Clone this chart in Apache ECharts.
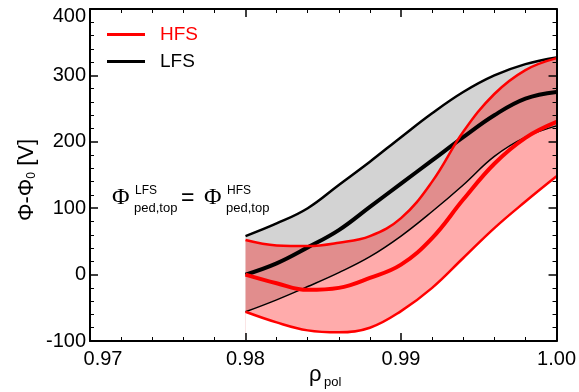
<!DOCTYPE html>
<html>
<head>
<meta charset="utf-8">
<script src="https://cdn.jsdelivr.net/npm/echarts@6/dist/echarts.min.js"></script>
<style>
  html, body { margin: 0; padding: 0; background: #fff; }
  #chart { width: 579px; height: 392px; }
</style>
</head>
<body>
<div id="chart"></div>
<script>
// rho_pol sample points
const rho = [0.980, 0.982, 0.984, 0.986, 0.988, 0.990, 0.992, 0.994, 0.996, 0.998, 1.000]

// LFS band (black)
const lfsUpper = [58, 77, 100, 135, 170, 207, 243, 275, 300, 317, 327]
const lfsMean  = [0, 17, 41, 67, 102, 137, 172, 207, 240, 265, 275]
const lfsLower = [-56, -38, -18, 3, 27, 58, 95, 135, 178, 207, 224]

// HFS band (red)
const hfsUpper = [52, 44, 43, 48, 58, 85, 140, 215, 272, 308, 326]
const hfsMean  = [0, -13, -23, -20, -5, 15, 55, 113, 167, 206, 230]
const hfsLower = [-56, -72, -84, -87, -80, -55, -20, 25, 70, 110, 148]

const xTicks = [0.97, 0.98, 0.99, 1.00]
const yTicks = [-100, 0, 100, 200, 300, 400]

const FONT = "'Liberation Sans', Arial, sans-serif"
const SERIF = "'Liberation Serif', 'Times New Roman', serif"
const SMOOTH = 0.4

const chart = echarts.init(document.getElementById('chart'))

const pts = arr => rho.map((r, i) => [r, arr[i]])

// filled area from a curve down to the bottom of the axis
function fillSeries(arr, color) {
  return {
    type: 'line', data: pts(arr), symbol: 'none', smooth: SMOOTH, silent: true,
    lineStyle: { width: 0 },
    areaStyle: { color, opacity: 1, origin: 'start' }
  }
}

function lineSeries(name, arr, color, width) {
  return {
    name, type: 'line', data: pts(arr), color,
    symbol: 'none', smooth: SMOOTH, silent: true,
    lineStyle: { color, width }
  }
}

const tickAxisCommon = {
  z: 10,
  axisLine: { show: true, onZero: false, lineStyle: { color: '#000', width: 2 } },
  axisTick: { show: true, inside: true, length: 8, lineStyle: { color: '#000', width: 1.5 } },
  minorTick: { show: true, splitNumber: 5, length: 4, lineStyle: { color: '#000', width: 1 } },
  splitLine: { show: false }
}

const xAxisBase = {
  type: 'value',
  min: xTicks[0],
  max: xTicks[xTicks.length - 1],
  interval: 0.01,
  ...tickAxisCommon
}

const yAxisBase = {
  type: 'value',
  min: yTicks[0],
  max: yTicks[yTicks.length - 1],
  interval: 100,
  ...tickAxisCommon
}

const option = {
  animation: false,
  backgroundColor: '#fff',
  grid: { left: 90, right: 22, top: 9, bottom: 51 },
  xAxis: [
    {
      ...xAxisBase,
      position: 'bottom',
      axisLabel: {
        color: '#000', fontSize: 20, fontFamily: FONT, margin: 8,
        formatter: v => {
          const s = v.toFixed(2)
          return Math.abs(v - xTicks[0]) < 1e-6 ? '{f|' + s + '}' : s
        },
        rich: { f: { color: '#000', fontSize: 20, fontFamily: FONT, padding: [0, 0, 0, 26] } }
      }
    },
    { ...xAxisBase, position: 'top', axisLabel: { show: false } }
  ],
  yAxis: [
    {
      ...yAxisBase,
      position: 'left',
      axisLabel: {
        color: '#000', fontSize: 20, fontFamily: FONT, margin: 4,
        formatter: v => (v === yTicks[yTicks.length - 1] ? '{t|' + v + '}' : String(v)),
        rich: { t: { color: '#000', fontSize: 20, fontFamily: FONT, padding: [14, 0, 0, 0] } }
      }
    },
    { ...yAxisBase, position: 'right', axisLabel: { show: false } }
  ],
  legend: {
    left: 102, top: 20, orient: 'vertical',
    icon: 'rect', itemWidth: 38, itemHeight: 3, itemGap: 8,
    selectedMode: false,
    textStyle: { fontSize: 19, fontFamily: FONT, padding: [0, 0, 0, 10] },
    data: [
      { name: 'HFS', textStyle: { color: '#ff0000' } },
      { name: 'LFS', textStyle: { color: '#000' } }
    ]
  },
  series: [
    // LFS band: gray under upper curve, blanked below lower curve
    fillSeries(lfsUpper, '#d3d3d3'),
    fillSeries(lfsLower, '#ffffff'),
    lineSeries('LFS', lfsUpper, '#000', 2.5),
    lineSeries('LFS', lfsMean, '#000', 4),
    lineSeries('LFS', lfsLower, '#000', 1.5),
    // HFS band: translucent red under upper curve, blanked below lower curve
    fillSeries(hfsUpper, 'rgba(255,0,0,0.33)'),
    fillSeries(hfsLower, '#ffffff'),
    lineSeries('HFS', hfsUpper, '#ff0000', 2.5),
    lineSeries('HFS', hfsMean, '#ff0000', 4),
    lineSeries('HFS', hfsLower, '#ff0000', 2.5)
  ],
  graphic: [
    // y axis title
    {
      type: 'text', x: 27, y: 180, rotation: Math.PI / 2,
      style: {
        text: '{a|Φ-Φ}{s|0}{a| [V]}',
        align: 'center', verticalAlign: 'middle',
        rich: {
          a: { fontSize: 22, fontFamily: FONT, fill: '#000' },
          s: { fontSize: 12, fontFamily: FONT, fill: '#000', verticalAlign: 'bottom', padding: [8, 0, 0, 0] }
        }
      }
    },
    // x axis title
    { type: 'text', x: 309, y: 375, style: { text: 'ρ', fontSize: 22, fontFamily: FONT, fill: '#000', verticalAlign: 'middle' } },
    { type: 'text', x: 324, y: 382, style: { text: 'pol', fontSize: 13, fontFamily: FONT, fill: '#000', verticalAlign: 'middle' } },
    // annotation
    { type: 'text', x: 112, y: 198, style: { text: 'Φ', fontSize: 24, fontFamily: SERIF, fill: '#000', verticalAlign: 'middle' } },
    { type: 'text', x: 135, y: 191, style: { text: 'LFS', fontSize: 12, fontFamily: FONT, fill: '#000', verticalAlign: 'middle' } },
    { type: 'text', x: 134, y: 208, style: { text: 'ped,top', fontSize: 13, fontFamily: FONT, fill: '#000', verticalAlign: 'middle' } },
    { type: 'text', x: 181, y: 199, style: { text: '=', fontSize: 23, fontFamily: FONT, fill: '#000', verticalAlign: 'middle' } },
    { type: 'text', x: 204, y: 198, style: { text: 'Φ', fontSize: 24, fontFamily: SERIF, fill: '#000', verticalAlign: 'middle' } },
    { type: 'text', x: 227, y: 191, style: { text: 'HFS', fontSize: 12, fontFamily: FONT, fill: '#000', verticalAlign: 'middle' } },
    { type: 'text', x: 226, y: 208, style: { text: 'ped,top', fontSize: 13, fontFamily: FONT, fill: '#000', verticalAlign: 'middle' } }
  ]
}

chart.setOption(option)
</script>
</body>
</html>
